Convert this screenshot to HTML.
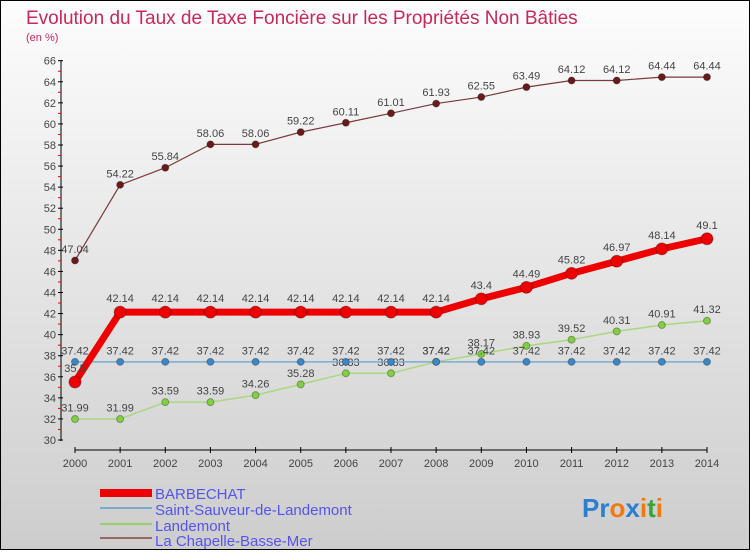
<!DOCTYPE html>
<html><head><meta charset="utf-8"><style>
body{margin:0}
svg text{font-family:"Liberation Sans",sans-serif}
</style></head><body>
<svg id="c" width="750" height="550" xmlns="http://www.w3.org/2000/svg">
<defs><linearGradient id="bg" x1="0" y1="0" x2="0" y2="1"><stop offset="0" stop-color="#fdfdfd"/><stop offset="1" stop-color="#cdcdcd"/></linearGradient></defs>
<rect x="0.5" y="0.5" width="749" height="549" fill="url(#bg)" stroke="#000"/>
<text x="26" y="24" font-size="19" fill="#c8285a">Evolution du Taux de Taxe Foncière sur les Propriétés Non Bâties</text>
<text x="26" y="41" font-size="11" fill="#c8285a">(en %)</text>
<g id="axes"></g><g id="series"></g>
<g>
<rect x="100" y="489" width="52" height="8" fill="#e00"/>
<text x="155" y="499" font-size="15" fill="#5555ee">BARBECHAT</text>
<rect x="100" y="507" width="52" height="2" fill="#7aabd2"/>
<text x="155" y="515" font-size="15" fill="#5555ee">Saint-Sauveur-de-Landemont</text>
<rect x="100" y="523" width="52" height="2" fill="#99d066"/>
<text x="155" y="531" font-size="15" fill="#5555ee">Landemont</text>
<rect x="100" y="537" width="52" height="2" fill="#996666"/>
<text x="155" y="546" font-size="15" fill="#5555ee">La Chapelle-Basse-Mer</text>
</g>
<text x="582" y="517" font-size="26" font-weight="bold"><tspan fill="#2a7fd0">Pr</tspan><tspan fill="#f07a10">o</tspan><tspan fill="#2a7fd0">x</tspan><tspan fill="#f07a10">i</tspan><tspan fill="#3aa33a">t</tspan><tspan fill="#f07a10">i</tspan></text>
</svg>
<script>
const years=[2000,2001,2002,2003,2004,2005,2006,2007,2008,2009,2010,2011,2012,2013,2014];
const yTicks=[30,32,34,36,38,40,42,44,46,48,50,52,54,56,58,60,62,64,66];
const barbechat=[35.5,42.14,42.14,42.14,42.14,42.14,42.14,42.14,42.14,43.4,44.49,45.82,46.97,48.14,49.1];
const saintSauveur=[37.42,37.42,37.42,37.42,37.42,37.42,37.42,37.42,37.42,37.42,37.42,37.42,37.42,37.42,37.42];
const landemont=[31.99,31.99,33.59,33.59,34.26,35.28,36.33,36.33,37.42,38.17,38.93,39.52,40.31,40.91,41.32];
const chapelle=[47.04,54.22,55.84,58.06,58.06,59.22,60.11,61.01,61.93,62.55,63.49,64.12,64.12,64.44,64.44];
const NS="http://www.w3.org/2000/svg";
const xS=i=>75+i*(707-75)/14;
const yS=v=>440-(v-30)*(440-60.7)/36;
function mk(t,a,p){const e=document.createElementNS(NS,t);for(const k in a)e.setAttribute(k,a[k]);p.appendChild(e);return e;}
const ax=document.getElementById('axes');
let l=mk('line',{x1:61,y1:60,x2:61,y2:441,stroke:'#000'},ax);


l=mk('line',{x1:75,y1:450,x2:707,y2:450,stroke:'#000'},ax);


yTicks.forEach(v=>{const y=yS(v);
mk('line',{x1:58,y1:y,x2:63,y2:y,stroke:'#000'},ax);
if(v<66)mk('line',{x1:58,y1:yS(v+1),x2:61,y2:yS(v+1),stroke:'#e00'},ax);
const t=mk('text',{x:56,y:y+4,'font-size':11,'text-anchor':'end',fill:'#444'},ax);t.textContent=v;

});
years.forEach((yr,i)=>{const x=xS(i);
mk('line',{x1:x,y1:447,x2:x,y2:453,stroke:'#000'},ax);
const t=mk('text',{x:x,y:467,'font-size':11,'text-anchor':'middle',fill:'#444'},ax);t.textContent=yr;

});
const sg=document.getElementById('series');
function draw(d,name,col,w,r,pc){const g=mk('g',{},sg);


const p=mk('polyline',{points:d.map((v,i)=>xS(i)+','+yS(v)).join(' '),fill:'none',stroke:col,'stroke-width':w,'stroke-linejoin':'round'},g);


d.forEach((v,i)=>{const c=mk('circle',{cx:xS(i),cy:yS(v),r:r,fill:pc,stroke:'rgba(0,0,0,0.3)'},g);


const t=mk('text',{x:xS(i),y:yS(v)-r-4,'font-size':11,'text-anchor':'middle',fill:'#444'},g);t.textContent=v;

});}
draw(chapelle,'la-chapelle','#7a3a3a',1.2,3.5,'#6a1a1a');
draw(landemont,'landemont','#a8d880',1.5,3.5,'#80d040');
draw(saintSauveur,'saint-sauveur','#7aabd2',1.5,3.5,'#3a88c8');
draw(barbechat,'barbechat','#ee0000',7,6,'#ee0000');
</script>
</body></html>
